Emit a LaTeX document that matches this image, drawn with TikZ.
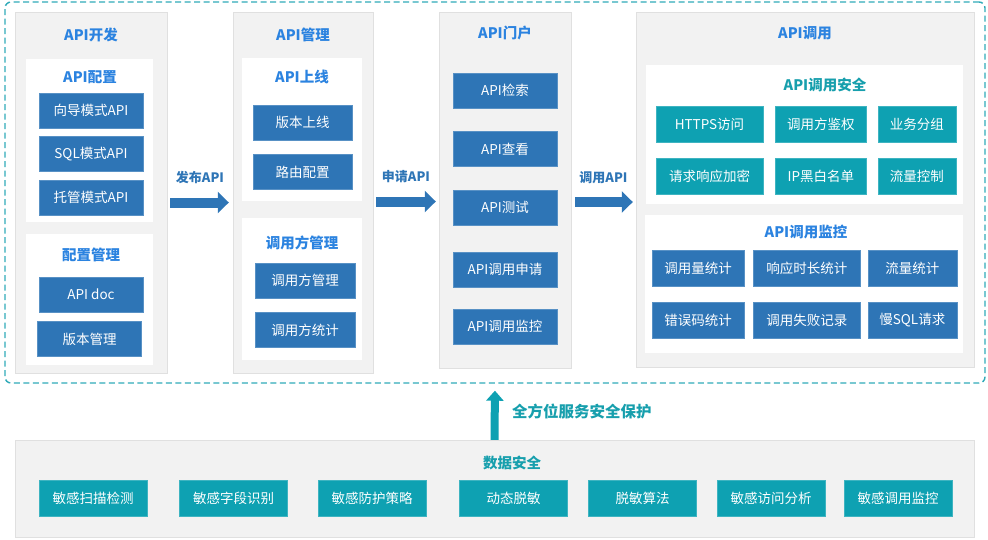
\documentclass[tikz,border=0pt]{standalone}
\usepackage{fontspec}
\setmainfont{Noto Sans CJK SC}
\usepackage{xcolor}
\usepackage{tikz}
\usetikzlibrary{arrows.meta,positioning,fit}
\definecolor{boxblue}{HTML}{2E75B6}
\definecolor{boxteal}{HTML}{0EA1B2}
\definecolor{ttlblue}{HTML}{2B83E0}
\definecolor{ttlteal}{HTML}{179FAD}
\definecolor{panelgray}{HTML}{F2F2F2}
\definecolor{framecyan}{HTML}{30AAB8}

\begin{document}
\begin{tikzpicture}[
  x=1pt, y=-1pt,
  node distance=8pt,
  panel/.style={fill=panelgray, draw=black!12, inner sep=0pt},
  subpanel/.style={fill=white, inner sep=0pt},
  ptitle/.style={text=ttlblue, font=\fontsize{14.5}{16}\selectfont\bfseries},
  ttitle/.style={ptitle, text=ttlteal},
  bbox/.style={fill=boxblue, draw=boxblue!80, text=white, inner sep=0pt, minimum width=104pt, minimum height=35pt, font=\fontsize{13.5}{15}\selectfont},
  tbox/.style={bbox, fill=boxteal, draw=boxteal!80},
  flow/.style={-{Triangle[length=11pt,width=21pt]}, line width=10pt, draw=boxblue},
  flowlbl/.style={text=boxblue, font=\fontsize{13}{15}\selectfont\bfseries},
  uparr/.style={-{Triangle[length=10pt,width=17pt]}, line width=8pt, draw=boxteal}
]
\useasboundingbox (0,0) rectangle (988,539);
\node[panel, fit={(15,12)(167,373)}] (dev) {};
\node[ptitle] (devT) at (91,35) {API开发};
\node[subpanel, fit={(26,59)(153,222)}] (cfg) {};
\node[ptitle] (cfgT) at (90,77) {API配置};
\node[bbox] (guide) at (91,110.5) {向导模式API};
\node[bbox, below=of guide] (sqlm) {SQL模式API};
\node[bbox, below=of sqlm] (hosted) {托管模式API};
\node[subpanel, fit={(26,234)(153,365)}] (cfgmg) {};
\node[ptitle] (cfgmgT) at (91,255) {配置管理};
\node[bbox] (apidoc) at (91,294.5) {API doc};
\node[bbox, below=9pt of apidoc, xshift=-1.5pt] (vermg) {版本管理};

\node[panel, fit={(233,12)(373,373)}] (mgmt) {};
\node[ptitle] (mgmtT) at (303,35) {API管理};
\node[subpanel, fit={(242,58)(362,201)}] (online) {};
\node[ptitle] (onlineT) at (302,77) {API上线};
\node[bbox, minimum width=99pt] (verup) at (302.5,122.5) {版本上线};
\node[bbox, minimum width=99pt, below=14pt of verup] (route) {路由配置};
\node[subpanel, fit={(242,218)(362,360)}] (caller) {};
\node[ptitle] (callerT) at (302,243) {调用方管理};
\node[bbox, minimum width=100pt] (callmg) at (305,280.5) {调用方管理};
\node[bbox, minimum width=100pt, below=14pt of callmg] (callst) {调用方统计};

\node[panel, fit={(439,12)(571,368)}] (portal) {};
\node[ptitle] (portalT) at (505,33) {API门户};
\node[bbox] (search) at (505,90.5) {API检索};
\node[bbox] (view) at (505,149) {API查看};
\node[bbox] (test) at (505,207.5) {API测试};
\node[bbox] (apply) at (505,269.5) {API调用申请};
\node[bbox] (watch) at (505,326.5) {API调用监控};

\node[panel, fit={(636,12)(974,367)}] (call) {};
\node[ptitle] (callT) at (805,33) {API调用};
\node[subpanel, fit={(646,65)(963,204)}] (sec) {};
\node[ttitle] (secT) at (825,85) {API调用安全};
\node[tbox, minimum width=107pt, minimum height=36pt] (https) at (709.5,124) {HTTPS访问};
\node[tbox, minimum width=91pt, minimum height=36pt, right=12pt of https] (auth) {调用方鉴权};
\node[tbox, minimum width=78pt, minimum height=36pt, right=11pt of auth] (group) {业务分组};
\node[tbox, minimum width=107pt, minimum height=36pt, below=16pt of https] (crypt) {请求响应加密};
\node[tbox, minimum width=91pt, minimum height=36pt, below=16pt of auth] (ipbw) {IP黑白名单};
\node[tbox, minimum width=78pt, minimum height=36pt, below=16pt of group] (rate) {流量控制};
\node[subpanel, fit={(645,215)(963,353)}] (mon) {};
\node[ptitle] (monT) at (806,232) {API调用监控};
\node[bbox, minimum width=92pt, minimum height=36pt] (cnt) at (698,268) {调用量统计};
\node[bbox, minimum width=107pt, minimum height=36pt, right=9pt of cnt] (latency) {响应时长统计};
\node[bbox, minimum width=89pt, minimum height=36pt, right=7pt of latency] (traffic) {流量统计};
\node[bbox, minimum width=92pt, minimum height=36pt, below=16pt of cnt] (errc) {错误码统计};
\node[bbox, minimum width=107pt, minimum height=36pt, below=16pt of latency] (fail) {调用失败记录};
\node[bbox, minimum width=89pt, minimum height=36pt, below=16pt of traffic] (slow) {慢SQL请求};

\node[draw=framecyan, line width=1.4pt, dash pattern=on 6pt off 3.5pt, rounded corners=6pt, inner sep=0pt, fit={(5,2)(985,383)}] (frame) {};

\draw[flow, shorten <=3pt, shorten >=4pt] ([yshift=-10pt]dev.east) -- node[flowlbl, above=10pt] {发布API} ([yshift=-10pt]mgmt.west);
\draw[flow, shorten <=3pt, shorten >=3pt] ([yshift=-9pt]mgmt.east) -- node[flowlbl, above=10pt] {申请API} ([yshift=-9pt]mgmt.east -| portal.west);
\draw[flow, shorten <=4pt, shorten >=3pt] ([yshift=-12pt]portal.east) -- node[flowlbl, above=10pt] {调用API} ([yshift=-12pt]portal.east -| call.west);

\node[panel, fit={(15,440)(974,537)}] (data) {};
\node[ttitle] (dataT) at (512,463) {数据安全};
\node[tbox, minimum width=108pt, minimum height=36pt] (scan) at (93,498) {敏感扫描检测};
\node[tbox, minimum width=108pt, minimum height=36pt] (field) at (233.5,498) {敏感字段识别};
\node[tbox, minimum width=108pt, minimum height=36pt] (policy) at (372,498) {敏感防护策略};
\node[tbox, minimum width=108pt, minimum height=36pt] (dynmask) at (513.5,498) {动态脱敏};
\node[tbox, minimum width=108pt, minimum height=36pt] (maskalg) at (642.5,498) {脱敏算法};
\node[tbox, minimum width=108pt, minimum height=36pt] (access) at (771,498) {敏感访问分析};
\node[tbox, minimum width=108pt, minimum height=36pt] (callwatch) at (898,498) {敏感调用监控};

\draw[uparr, shorten >=7pt] (data.north) -- node[ttitle, font=\fontsize{15.5}{17}\selectfont\bfseries, right=10pt] {全方位服务安全保护} (frame.south);
\end{tikzpicture}
\end{document}
